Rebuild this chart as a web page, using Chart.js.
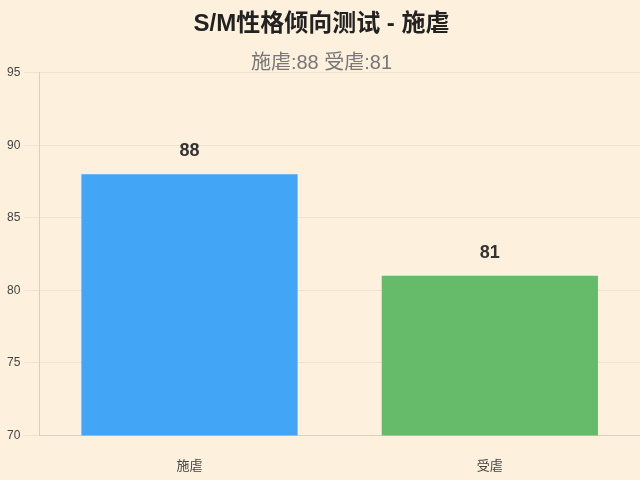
<!DOCTYPE html>
<html>
<head>
<meta charset="utf-8">
<script src="https://cdn.jsdelivr.net/npm/chart.js@4/dist/chart.umd.min.js"></script>
<style>
  html, body { margin: 0; padding: 0; background: #fdf1de; }
  #wrap { width: 640px; height: 480px; }
</style>
</head>
<body>
<div id="wrap"><canvas id="chart"></canvas></div>
<script>
// 데이터
const categories = ['施虐', '受虐'];
const scores = [88, 81];
const barColors = ['#42a5f5', '#66bb6a'];
const yTicks = [70, 75, 80, 85, 90, 95];

const FONT = "'Liberation Sans', 'Noto Sans CJK SC', sans-serif";

// 막대 위 값 표시
const valueLabels = {
  id: 'valueLabels',
  afterDatasetsDraw(chart) {
    const ctx = chart.ctx;
    const meta = chart.getDatasetMeta(0);
    ctx.save();
    ctx.font = 'bold 18px ' + FONT;
    ctx.fillStyle = '#333';
    ctx.textAlign = 'center';
    ctx.textBaseline = 'bottom';
    meta.data.forEach((bar, i) => {
      ctx.fillText(String(scores[i]), bar.x, bar.y - 14);
    });
    ctx.restore();
  }
};

new Chart(document.getElementById('chart'), {
  type: 'bar',
  data: {
    labels: categories,
    datasets: [{
      data: scores,
      backgroundColor: barColors,
      borderWidth: 0
    }]
  },
  options: {
    responsive: true,
    maintainAspectRatio: false,
    animation: false,
    layout: { padding: { left: 3, bottom: -17 } },
    plugins: {
      legend: { display: false },
      tooltip: { enabled: false },
      title: {
        display: true,
        text: 'S/M性格倾向测试 - 施虐',
        color: '#222',
        font: { family: FONT, size: 24, weight: 'bold' },
        padding: { top: 10, bottom: 13 }
      },
      subtitle: {
        display: true,
        text: '施虐:88 受虐:81',
        color: '#777',
        font: { family: FONT, size: 20 },
        padding: { top: 0, bottom: -3 }
      }
    },
    scales: {
      x: {
        grid: { display: false, drawTicks: false },
        border: { color: '#d9d0c2' },
        ticks: { color: '#444', font: { family: FONT, size: 13 }, padding: 23 }
      },
      y: {
        min: yTicks[0],
        max: yTicks[yTicks.length - 1],
        afterBuildTicks(axis) {
          axis.ticks = yTicks.map(v => ({ value: v }));
        },
        grid: { color: 'rgba(0,0,0,0.06)', tickLength: 15 },
        border: { color: '#d9d0c2' },
        ticks: { color: '#444', font: { family: FONT, size: 12 }, padding: 4 }
      }
    }
  },
  plugins: [valueLabels]
});
</script>
</body>
</html>
